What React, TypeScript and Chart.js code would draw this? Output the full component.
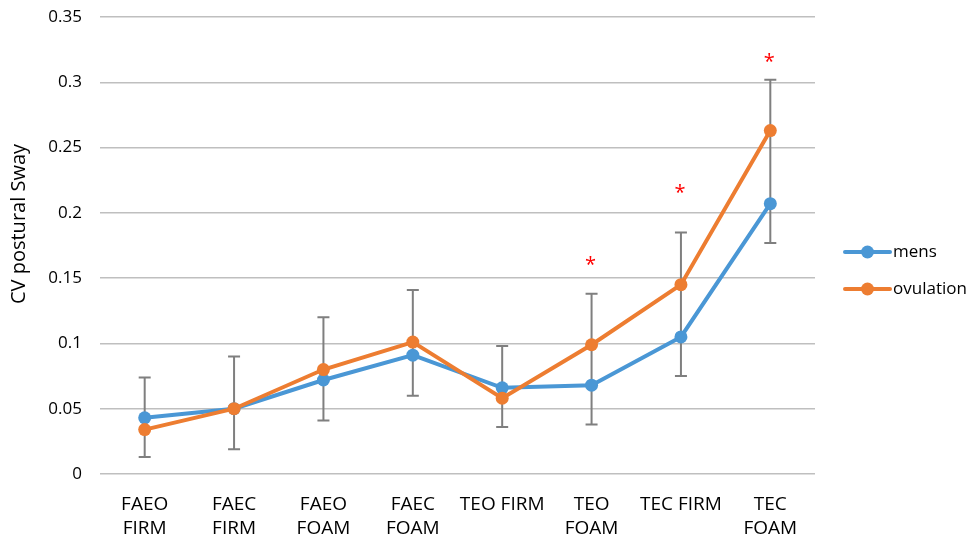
import React, { useEffect, useRef } from "react";
import { Chart, registerables } from "chart.js";

Chart.register(...registerables);

const categories: (string | string[])[] = [
  ["FAEO", "FIRM"],
  ["FAEC", "FIRM"],
  ["FAEO", "FOAM"],
  ["FAEC", "FOAM"],
  "TEO FIRM",
  ["TEO", "FOAM"],
  "TEC FIRM",
  ["TEC", "FOAM"],
];

const mens = [0.043, 0.05, 0.072, 0.091, 0.066, 0.068, 0.105, 0.207];
const ovulation = [0.034, 0.05, 0.08, 0.101, 0.058, 0.099, 0.145, 0.263];

// vertical extent of the whisker drawn at each condition
const errLow = [0.013, 0.019, 0.041, 0.06, 0.036, 0.038, 0.075, 0.177];
const errHigh = [0.074, 0.09, 0.12, 0.141, 0.098, 0.138, 0.185, 0.302];

// significance markers (category index, y position)
const starIndex = [5, 6, 7];
const starValue = [0.163, 0.218, 0.318];

const yMin = 0;
const yMax = 0.35;
const yStep = 0.05;
const yTitle = "CV postural Sway";

const BLUE = "#4A97D5";
const ORANGE = "#ED7D31";
const FONT = "'Open Sans', 'Noto Sans', sans-serif";

const seriesNames = ["mens", "ovulation"];
const seriesColors = [BLUE, ORANGE];

const overlayPlugin = {
  id: "overlay",
  beforeDatasetsDraw(chart: any) {
    const { ctx } = chart;
    const x = chart.scales.x;
    const y = chart.scales.y;
    ctx.save();
    ctx.strokeStyle = "#7F7F7F";
    ctx.lineWidth = 2;
    for (let i = 0; i < errLow.length; i++) {
      const px = x.getPixelForValue(i);
      const lo = y.getPixelForValue(errLow[i]);
      const hi = y.getPixelForValue(errHigh[i]);
      ctx.beginPath();
      ctx.moveTo(px, lo);
      ctx.lineTo(px, hi);
      ctx.moveTo(px - 6, lo);
      ctx.lineTo(px + 6, lo);
      ctx.moveTo(px - 6, hi);
      ctx.lineTo(px + 6, hi);
      ctx.stroke();
    }
    ctx.restore();
  },
  afterDraw(chart: any) {
    const { ctx } = chart;
    const x = chart.scales.x;
    const y = chart.scales.y;
    ctx.save();
    // y-axis title
    ctx.fillStyle = "#000000";
    ctx.font = `20px ${FONT}`;
    ctx.textAlign = "center";
    ctx.textBaseline = "middle";
    ctx.translate(19, 224);
    ctx.rotate(-Math.PI / 2);
    ctx.fillText(yTitle, 0, 0);
    ctx.setTransform(1, 0, 0, 1, 0, 0);
    // asterisks
    ctx.fillStyle = "#FF0000";
    ctx.font = `20px ${FONT}`;
    for (let k = 0; k < starIndex.length; k++) {
      ctx.fillText("*", x.getPixelForValue(starIndex[k]) - 1, y.getPixelForValue(starValue[k]) + 4);
    }
    // legend
    const lx = chart.chartArea.right + 30;
    const rows = [252, 289];
    ctx.textAlign = "left";
    ctx.font = `17px ${FONT}`;
    for (let s = 0; s < seriesNames.length; s++) {
      const ly = rows[s];
      ctx.strokeStyle = seriesColors[s];
      ctx.lineWidth = 4;
      ctx.lineCap = "round";
      ctx.beginPath();
      ctx.moveTo(lx, ly);
      ctx.lineTo(lx + 45, ly);
      ctx.stroke();
      ctx.fillStyle = seriesColors[s];
      ctx.beginPath();
      ctx.arc(lx + 22.5, ly, 6.5, 0, Math.PI * 2);
      ctx.fill();
      ctx.fillStyle = "#000000";
      ctx.fillText(seriesNames[s], lx + 48, ly);
    }
    ctx.restore();
  },
};

export default function App() {
  const canvasRef = useRef<HTMLCanvasElement>(null);

  useEffect(() => {
    if (!canvasRef.current) return;
    const chart = new Chart(canvasRef.current, {
      type: "line",
      data: {
        labels: categories,
        datasets: [
          {
            label: seriesNames[0],
            data: mens,
            borderColor: BLUE,
            backgroundColor: BLUE,
            borderWidth: 4,
            pointRadius: 6.5,
            pointHoverRadius: 6.5,
            pointBorderWidth: 0,
            order: 1,
          },
          {
            label: seriesNames[1],
            data: ovulation,
            borderColor: ORANGE,
            backgroundColor: ORANGE,
            borderWidth: 4,
            pointRadius: 6.5,
            pointHoverRadius: 6.5,
            pointBorderWidth: 0,
            order: 0,
          },
        ],
      },
      options: {
        animation: false,
        responsive: true,
        maintainAspectRatio: false,
        layout: { padding: { left: 0, right: 152, top: 17, bottom: 0 } },
        plugins: {
          legend: { display: false },
          tooltip: { enabled: false },
        },
        scales: {
          x: {
            offset: true,
            grid: { display: false },
            border: { display: false },
            ticks: {
              color: "#000000",
              font: { family: FONT, size: 19, lineHeight: 1.26 },
              padding: 11,
              maxRotation: 0,
              autoSkip: false,
            },
            afterFit(scale: any) {
              scale.height = 66;
            },
          },
          y: {
            min: yMin,
            max: yMax,
            grid: { color: "#BFBFBF", lineWidth: 1.5, drawTicks: false },
            border: { display: false },
            ticks: {
              stepSize: yStep,
              color: "#000000",
              font: { family: FONT, size: 17 },
              padding: 18,
              callback: (v: any) => String(Number(Number(v).toFixed(2))),
            },
            afterFit(scale: any) {
              scale.width = 100;
              scale.paddingTop = 10;
              scale.paddingBottom = 10;
            },
          },
        },
      },
      plugins: [overlayPlugin],
    });
    return () => chart.destroy();
  }, []);

  return (
    <div style={{ position: "absolute", left: 0, top: 0, width: 967, height: 540, background: "#ffffff" }}>
      <canvas ref={canvasRef} />
    </div>
  );
}
